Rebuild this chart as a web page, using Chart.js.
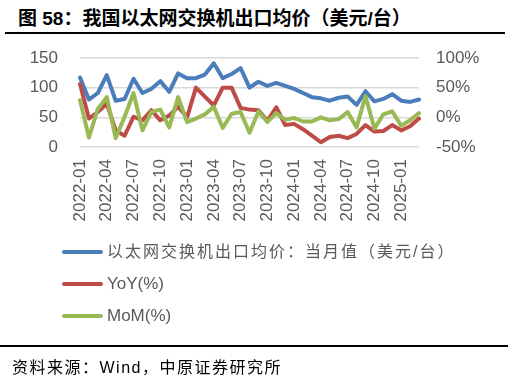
<!DOCTYPE html>
<html>
<head>
<meta charset="utf-8">
<script src="https://cdn.jsdelivr.net/npm/chart.js@4"></script>
<style>
  body { margin: 0; width: 510px; height: 378px; background: #fff; position: relative; overflow: hidden;
         font-family: "Liberation Sans", "Noto Sans CJK SC", sans-serif; }
  #c { position: absolute; left: 0; top: 0; }
  .title { position: absolute; left: 18px; top: 3px; font-size: 19px; font-weight: bold; color: #000;
           font-family: "Liberation Sans", "Noto Sans CJK SC", sans-serif; white-space: nowrap; }
  .rule { position: absolute; left: 5px; width: 500px; height: 2px; background: #000; }
  .src { position: absolute; left: 12px; top: 354px; font-size: 16px; letter-spacing: 1.5px; color: #000;
         font-family: "Liberation Sans", "Noto Sans CJK SC", sans-serif; white-space: nowrap; }
  #legend { position: absolute; left: 62px; top: 240px; }
  .item { position: absolute; left: 0; height: 24px; white-space: nowrap; }
  .item .sw { position: absolute; left: 0; top: 10px; width: 41px; height: 4px; border-radius: 2px; }
  .item .tx { position: absolute; left: 45px; top: 0; line-height: 24px; color: #595959; font-size: 17px;
              font-family: "Liberation Sans", "Noto Sans CJK SC", sans-serif; }
  .item .tx.cn { font-size: 16px; letter-spacing: 2px; }
</style>
</head>
<body>
<div class="title">图 58：我国以太网交换机出口均价（美元/台）</div>
<div class="rule" style="top:32px"></div>
<canvas id="c" width="510" height="378"></canvas>
<div id="legend"></div>
<div class="rule" style="top:345px; left:0; width:508px"></div>
<div class="src">资料来源：Wind，中原证券研究所</div>
<script>
const months = ['2022-01','2022-02','2022-03','2022-04','2022-05','2022-06','2022-07','2022-08','2022-09','2022-10','2022-11','2022-12',
  '2023-01','2023-02','2023-03','2023-04','2023-05','2023-06','2023-07','2023-08','2023-09','2023-10','2023-11','2023-12',
  '2024-01','2024-02','2024-03','2024-04','2024-05','2024-06','2024-07','2024-08','2024-09','2024-10','2024-11','2024-12',
  '2025-01','2025-02','2025-03'];
// 以太网交换机出口均价：当月值（美元/台）
const price = [117, 80, 91, 121, 78, 81, 115, 91, 98, 111, 93, 124,
  116, 116, 122, 141, 116, 123, 133, 100, 110, 103, 108, 103,
  98, 91, 84, 82, 78, 83, 85, 71, 94, 77, 81, 89,
  78, 76, 80];
// YoY(%)
const yoy = [56, -2, 9, 23, -22, -31, 1, -5, 12, -5, 3, 18,
  0, 50, 35, 20, 50, 50, 16, 13, 12, -6, 17, -13,
  -11, -20, -31, -42, -33, -31, -35, -28, -13, -24, -23, -13,
  -22, -15, -2];
// MoM(%)
const mom = [29, -34, 14, 34, -35, 1, 41, -22, 9, 13, -17, 34,
  -8, -2, 5, 18, -18, 6, 9, -26, 10, -8, 7, -4,
  -1, -7, -7, 0, -5, -3, 9, -17, 36, -19, 5, 10,
  -14, -5, 7];
const leftTicks = [0, 50, 100, 150];
const rightTicks = [-50, 0, 50, 100];

const seriesNames = ['以太网交换机出口均价：当月值（美元/台）', 'YoY(%)', 'MoM(%)'];
const colors = ['#4a7ebb', '#be4b48', '#98b954'];
const tickFont = { family: 'Liberation Sans', size: 17 };
const grey = '#595959';

const chart = new Chart(document.getElementById('c').getContext('2d'), {
  type: 'line',
  data: {
    labels: months,
    datasets: [
      { label: seriesNames[0], data: price, yAxisID: 'y', borderColor: colors[0], order: 2 },
      { label: seriesNames[1], data: yoy, yAxisID: 'y1', borderColor: colors[1], order: 1 },
      { label: seriesNames[2], data: mom, yAxisID: 'y1', borderColor: colors[2], order: 0 }
    ]
  },
  options: {
    responsive: false,
    devicePixelRatio: 1,
    animation: false,
    layout: { padding: { top: 58, left: 0, right: 0, bottom: 0 } },
    elements: {
      line: { borderWidth: 4, tension: 0, borderCapStyle: 'round', borderJoinStyle: 'round' },
      point: { radius: 0 }
    },
    plugins: { legend: { display: false }, tooltip: { enabled: false } },
    scales: {
      x: {
        grid: { display: false, drawTicks: false },
        border: { display: false },
        afterFit: s => { s.height = 231; },
        ticks: {
          autoSkip: false, minRotation: 90, maxRotation: 90, padding: 12,
          color: grey, font: tickFont,
          callback: (v, i) => (i % 3 === 0 ? months[i] : '')
        }
      },
      y: {
        position: 'left', min: 0, max: 150,
        afterFit: s => { s.width = 80; },
        afterBuildTicks: s => { s.ticks = leftTicks.map(v => ({ value: v })); },
        grid: { color: '#d9d9d9', lineWidth: 1.5, drawTicks: false },
        border: { display: false },
        ticks: { padding: 22, color: grey, font: tickFont }
      },
      y1: {
        position: 'right', min: -50, max: 100,
        afterFit: s => { s.width = 91; },
        afterBuildTicks: s => { s.ticks = rightTicks.map(v => ({ value: v })); },
        grid: { display: false, drawTicks: false },
        border: { display: false },
        ticks: { padding: 17, color: grey, font: tickFont, callback: v => v + '%' }
      }
    }
  }
});

// vertical legend like the original
const lg = document.getElementById('legend');
chart.data.datasets.forEach((ds, i) => {
  const it = document.createElement('div');
  it.className = 'item';
  it.style.top = (i * 32) + 'px';
  it.innerHTML = '<div class="sw" style="background:' + ds.borderColor + '"></div>' +
    '<div class="tx' + (i === 0 ? ' cn' : '') + '">' + ds.label + '</div>';
  lg.appendChild(it);
});
</script>
</body>
</html>
